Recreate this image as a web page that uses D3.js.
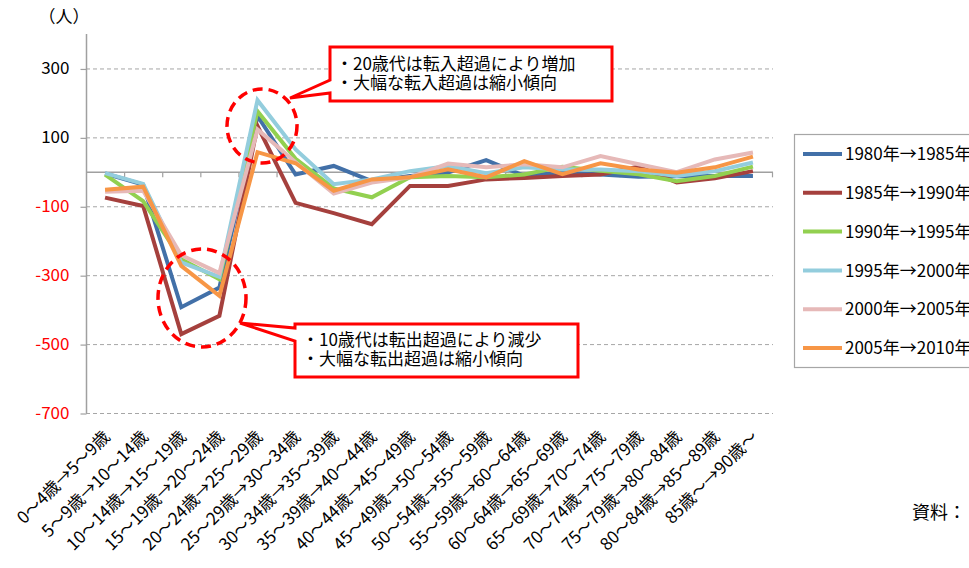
<!DOCTYPE html>
<html>
<head>
<meta charset="utf-8">
<script src="https://cdn.jsdelivr.net/npm/d3@7"></script>
<style>
  html, body { margin: 0; padding: 0; background: #fff; }
  svg { display: block; font-family: "Noto Sans CJK JP", "Noto Sans", sans-serif; }
</style>
</head>
<body>
<svg id="chart" width="969" height="568"></svg>
<script>
// Age-cohort transitions (x axis)
const categories = [
  "0～4歳→5～9歳", "5～9歳→10～14歳", "10～14歳→15～19歳", "15～19歳→20～24歳",
  "20～24歳→25～29歳", "25～29歳→30～34歳", "30～34歳→35～39歳", "35～39歳→40～44歳",
  "40～44歳→45～49歳", "45～49歳→50～54歳", "50～54歳→55～59歳", "55～59歳→60～64歳",
  "60～64歳→65～69歳", "65～69歳→70～74歳", "70～74歳→75～79歳", "75～79歳→80～84歳",
  "80～84歳→85～89歳", "85歳～→90歳～"
];

// Periods (legend)
const periods = ["1980年→1985年", "1985年→1990年", "1990年→1995年", "1995年→2000年", "2000年→2005年", "2005年→2010年"];

// Net migration (people) per cohort, one array per period
const s1980_1985 = [-5, -37, -393, -336, 162, -8, 17, -27, -12, -2, 34, -12, -2, -8, -14, -13, -12, -12];
const s1985_1990 = [-75, -99, -471, -418, 133, -90, -120, -152, -41, -41, -22, -18, -12, -8, 15, -31, -19, 2];
const s1990_1995 = [-8, -85, -254, -312, 176, 38, -48, -74, -16, -12, -16, -8, 15, 3, -7, -27, -12, 15];
const s1995_2000 = [-4, -35, -263, -305, 208, 65, -36, -22, 2, 17, -4, 13, 7, 7, 2, -12, 2, 27];
const s2000_2005 = [-58, -55, -242, -294, 123, 28, -63, -31, -16, 24, 13, 22, 13, 46, 22, -1, 36, 56];
const s2005_2010 = [-52, -43, -273, -360, 57, 25, -55, -22, -16, 7, -16, 31, -7, 25, 7, -3, 13, 44];

// Y axis tick values
const yTicks = [300, 100, -100, -300, -500, -700];

const seriesValues = [s1980_1985, s1985_1990, s1990_1995, s1995_2000, s2000_2005, s2005_2010];
const colors = ["#4270A8", "#A5403D", "#92D050", "#93CDDD", "#E6B9B8", "#F79646"];

const svg = d3.select("#chart");

const x = d3.scaleBand().domain(categories).range([86, 772]).paddingInner(0).paddingOuter(0);
const y = d3.scaleLinear().domain([-700, 400]).range([413, 34]);
const cx = c => x(c) + x.bandwidth() / 2;

// Dashed gridlines
svg.append("g").selectAll("line").data(yTicks).join("line")
  .attr("x1", 86).attr("x2", 773)
  .attr("y1", d => y(d) + 0.5).attr("y2", d => y(d) + 0.5)
  .attr("stroke", "#A6A6A6").attr("stroke-width", 1).attr("stroke-dasharray", "4,3");

// Y axis (plain hyphen for negatives)
const yAxis = svg.append("g").attr("transform", "translate(86.5,0)")
  .call(d3.axisLeft(y).tickValues(yTicks).tickSize(6).tickPadding(11).tickFormat(d => String(d)));
yAxis.select(".domain").remove();
yAxis.append("line").attr("x1", 0).attr("x2", 0).attr("y1", 34).attr("y2", 413)
  .attr("stroke", "#A0A0A0").attr("stroke-width", 1.5);
yAxis.selectAll(".tick line").attr("stroke", "#A0A0A0").attr("stroke-width", 1.2)
  .attr("transform", "translate(0,0.5)");
yAxis.selectAll(".tick text")
  .attr("font-size", 17).attr("font-family", "Noto Sans CJK JP")
  .attr("fill", d => d < 0 ? "#FF0000" : "#000");

// Unit label
svg.append("text").attr("x", 64).attr("y", 23).attr("text-anchor", "middle")
  .attr("font-size", 17).text("（人）");

// Zero line with category ticks
const zero = svg.append("g").attr("transform", `translate(0,${y(0) + 0.5})`);
zero.append("line").attr("x1", 86).attr("x2", 773).attr("stroke", "#A0A0A0").attr("stroke-width", 1.5);
const bounds = categories.map(c => x(c)).concat([x.range()[1]]);
zero.selectAll("line.tk").data(bounds.slice(1)).join("line").attr("class", "tk")
  .attr("x1", d => d + 0.5).attr("x2", d => d + 0.5).attr("y1", 0).attr("y2", 5)
  .attr("stroke", "#A0A0A0").attr("stroke-width", 1.2);

// Category labels, rotated
svg.append("g").selectAll("text").data(categories).join("text")
  .attr("transform", c => `translate(${cx(c) + 6},438) rotate(-45)`)
  .attr("text-anchor", "end").attr("font-size", 17).attr("fill", "#000")
  .text(c => c);

// Lines
const line = d3.line().x((d, i) => cx(categories[i])).y(d => y(d));
svg.append("g").selectAll("path").data(seriesValues).join("path")
  .attr("d", d => line(d))
  .attr("fill", "none")
  .attr("stroke", (d, i) => colors[i])
  .attr("stroke-width", 4)
  .attr("stroke-linejoin", "miter");

// Legend
const lg = svg.append("g");
lg.append("rect").attr("x", 794.5).attr("y", 134.5).attr("width", 220).attr("height", 233)
  .attr("fill", "#fff").attr("stroke", "#A6A6A6").attr("stroke-width", 1.2);
const items = lg.selectAll("g.item").data(periods).join("g").attr("class", "item")
  .attr("transform", (d, i) => `translate(0,${154 + i * 38.8})`);
items.append("line").attr("x1", 803).attr("x2", 842).attr("y1", 0).attr("y2", 0)
  .attr("stroke", (d, i) => colors[i]).attr("stroke-width", 4);
items.append("text").attr("x", 845).attr("y", 0).attr("dy", "0.36em")
  .attr("font-size", 17).text(d => d);

// Highlight circles
const hl = svg.append("g").attr("fill", "none").attr("stroke", "#FF0000")
  .attr("stroke-width", 3.5).attr("stroke-dasharray", "10,6");
hl.append("ellipse").attr("cx", 262).attr("cy", 126).attr("rx", 35).attr("ry", 37);
hl.append("ellipse").attr("cx", 202).attr("cy", 298).attr("rx", 44).attr("ry", 49);

// Callouts
const co = svg.append("g");
co.append("path")
  .attr("d", "M330,47 H612 V101 H330 V93 L290,98 L330,80 Z")
  .attr("fill", "#fff").attr("stroke", "#FF0000").attr("stroke-width", 3).attr("stroke-linejoin", "miter");
const t1 = co.append("text").attr("font-size", 17);
t1.append("tspan").attr("x", 336).attr("y", 70).text("・20歳代は転入超過により増加");
t1.append("tspan").attr("x", 336).attr("y", 89).text("・大幅な転入超過は縮小傾向");

co.append("path")
  .attr("d", "M295,324 H578 V377 H295 V341 L240,323 L295,328 Z")
  .attr("fill", "#fff").attr("stroke", "#FF0000").attr("stroke-width", 3).attr("stroke-linejoin", "miter");
const t2 = co.append("text").attr("font-size", 17);
t2.append("tspan").attr("x", 302).attr("y", 346).text("・10歳代は転出超過により減少");
t2.append("tspan").attr("x", 302).attr("y", 365).text("・大幅な転出超過は縮小傾向");

// Source note
svg.append("text").attr("x", 912).attr("y", 519).attr("font-size", 18).text("資料：");
</script>
</body>
</html>
